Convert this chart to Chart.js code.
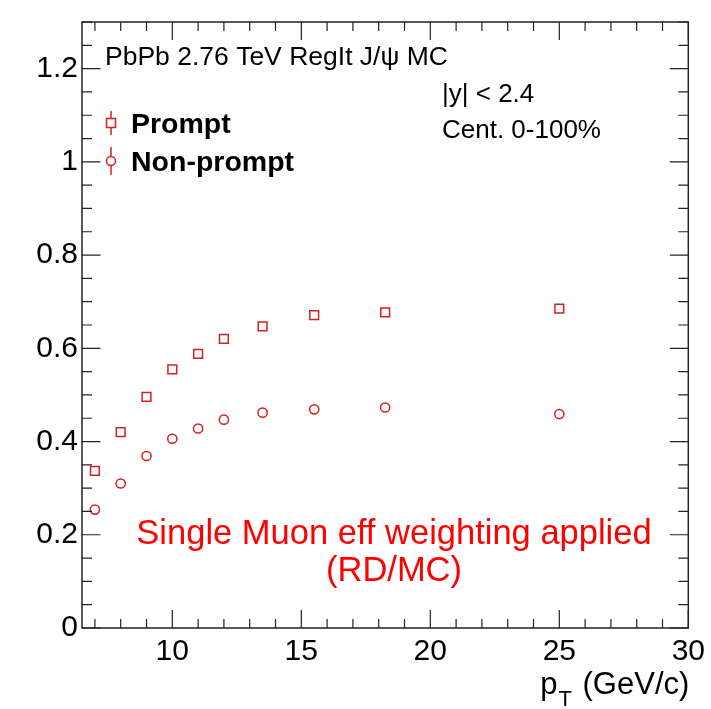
<!DOCTYPE html>
<html><head><meta charset="utf-8">
<script src="https://cdn.jsdelivr.net/npm/chart.js@4/dist/chart.umd.min.js"></script>
<style>html,body{margin:0;padding:0;background:#fff;overflow:hidden}</style>
</head><body>
<canvas id="c" width="711" height="709"></canvas>
<script>
// ---- data ----
const ptBins = [7, 8, 9, 10, 11, 12, 13.5, 15.5, 18.25, 25];
const promptEff = [0.337, 0.420, 0.496, 0.555, 0.588, 0.620, 0.647, 0.671, 0.677, 0.685];
const nonPromptEff = [0.254, 0.310, 0.369, 0.406, 0.428, 0.447, 0.462, 0.469, 0.473, 0.459];
const seriesNames = ['Prompt', 'Non-prompt'];
const xTickLabels = [10, 15, 20, 25, 30];
const yTickLabels = [0, 0.2, 0.4, 0.6, 0.8, 1, 1.2];
const xMinorStep = 1;
const yMinorStep = 0.05;
const headerText = 'PbPb 2.76 TeV RegIt J/\u03c8 MC';
const infoLines = ['|y| < 2.4', 'Cent. 0-100%'];
const noteLines = ['Single Muon eff weighting applied', '(RD/MC)'];

const FONT = "'Liberation Sans', Arial, Helvetica, sans-serif";
const markerColor = '#d42020';

const toPts = (xs, ys) => xs.map((x, i) => ({x: x, y: ys[i]}));

const rootDecor = {
  id: 'rootDecor',
  afterDraw(chart) {
    const ctx = chart.ctx;
    const a = chart.chartArea;
    const xs = chart.scales.x, ys = chart.scales.y;
    ctx.save();
    // frame
    ctx.strokeStyle = '#222';
    ctx.lineWidth = 1.5;
    ctx.strokeRect(a.left, a.top, a.right - a.left, a.bottom - a.top);
    // ticks
    ctx.lineWidth = 1.2;
    ctx.beginPath();
    const xmaj = 18, xmin = 9, ymaj = 18.5, ymin = 10;
    for (let v = Math.ceil(xs.min); v <= xs.max + 1e-9; v += xMinorStep) {
      const px = xs.getPixelForValue(v);
      const isMaj = xTickLabels.some(t => Math.abs(t - v) < 1e-9);
      const L = isMaj ? xmaj : xmin;
      ctx.moveTo(px, a.bottom); ctx.lineTo(px, a.bottom - L);
      ctx.moveTo(px, a.top); ctx.lineTo(px, a.top + L);
    }
    for (let k = 0; k * yMinorStep <= ys.max + 1e-9; k++) {
      const v = k * yMinorStep;
      const py = ys.getPixelForValue(v);
      const isMaj = yTickLabels.some(t => Math.abs(t - v) < 1e-9);
      const L = isMaj ? ymaj : ymin;
      ctx.moveTo(a.left, py); ctx.lineTo(a.left + L, py);
      ctx.moveTo(a.right, py); ctx.lineTo(a.right - L, py);
    }
    ctx.stroke();

    // header text
    ctx.fillStyle = '#000';
    ctx.textAlign = 'left';
    ctx.textBaseline = 'alphabetic';
    ctx.font = '26.5px ' + FONT;
    ctx.fillText(headerText, 105, 65);
    ctx.font = '26px ' + FONT;
    ctx.fillText(infoLines[0], 442, 102);
    ctx.fillText(infoLines[1], 442, 138);

    // legend
    const legY = [123, 161];
    const dsets = chart.data.datasets;
    for (let i = 0; i < 2; i++) {
      const cx = 111, cy = legY[i];
      ctx.strokeStyle = dsets[i].borderColor;
      ctx.lineWidth = 1.5;
      ctx.beginPath();
      if (i === 0) {
        ctx.rect(cx - 4.5, cy - 4.5, 9, 9);
        ctx.moveTo(cx, cy - 12); ctx.lineTo(cx, cy - 4.5);
        ctx.moveTo(cx, cy + 4.5); ctx.lineTo(cx, cy + 12);
      } else {
        ctx.arc(cx, cy, 4.5, 0, Math.PI * 2);
        ctx.moveTo(cx, cy - 14); ctx.lineTo(cx, cy - 4.5);
        ctx.moveTo(cx, cy + 4.5); ctx.lineTo(cx, cy + 14);
      }
      ctx.stroke();
      ctx.fillStyle = '#000';
      ctx.font = 'bold 28.5px ' + FONT;
      ctx.fillText(dsets[i].label, 131, cy + 9.5);
    }

    // red note
    ctx.fillStyle = '#ff0000';
    ctx.textAlign = 'center';
    ctx.font = '34.5px ' + FONT;
    ctx.fillText(noteLines[0], 394, 544);
    ctx.fillText(noteLines[1], 394, 581);

    // x title p_T (GeV/c)
    ctx.fillStyle = '#000';
    ctx.textAlign = 'left';
    const big = '31px ' + FONT, small = '22px ' + FONT;
    ctx.font = big; const wp = ctx.measureText('p').width;
    const rest = ' (GeV/c)'; const wr = ctx.measureText(rest).width;
    ctx.font = small; const wt = ctx.measureText('T').width;
    let x0 = a.right - (wp + wt + 3 + wr) + 1;
    const base = 694;
    ctx.font = big; ctx.fillText('p', x0, base);
    ctx.font = small; ctx.fillText('T', x0 + wp + 1, base + 12);
    ctx.font = big; ctx.fillText(rest, x0 + wp + wt + 3, base);
    ctx.restore();
  }
};

new Chart(document.getElementById('c'), {
  type: 'scatter',
  data: {
    datasets: [
      { label: seriesNames[0], data: toPts(ptBins, promptEff), pointStyle: 'rect',
        pointRadius: 6.2, pointHoverRadius: 6.2, borderColor: markerColor, backgroundColor: 'rgba(0,0,0,0)',
        pointBorderWidth: 1.5, borderWidth: 1.5, showLine: false },
      { label: seriesNames[1], data: toPts(ptBins, nonPromptEff), pointStyle: 'circle',
        pointRadius: 4.6, pointHoverRadius: 4.6, borderColor: markerColor, backgroundColor: 'rgba(0,0,0,0)',
        pointBorderWidth: 1.5, borderWidth: 1.5, showLine: false }
    ]
  },
  options: {
    responsive: false,
    animation: false,
    devicePixelRatio: 1,
    layout: { padding: { top: 17.5, right: 21.5, left: 0, bottom: 0 } },
    plugins: { legend: { display: false }, tooltip: { enabled: false }, title: { display: false } },
    scales: {
      x: {
        type: 'linear', min: 6.5, max: 30,
        grid: { display: false, drawTicks: false }, border: { display: false },
        afterBuildTicks: s => { s.ticks = xTickLabels.map(v => ({ value: v })); },
        afterFit: s => { s.height = 81; },
        ticks: { color: '#000', font: { family: FONT, size: 30 }, padding: 6, maxRotation: 0,
                 callback: v => String(v) }
      },
      y: {
        type: 'linear', min: 0, max: 1.3,
        grid: { display: false, drawTicks: false }, border: { display: false },
        afterBuildTicks: s => { s.ticks = yTickLabels.map(v => ({ value: v })); },
        afterFit: s => { s.width = 82; },
        ticks: { color: '#000', font: { family: FONT, size: 30 }, padding: 4,
                 callback: v => String(Math.round(v * 10) / 10) }
      }
    }
  },
  plugins: [rootDecor]
});
</script>
</body></html>
